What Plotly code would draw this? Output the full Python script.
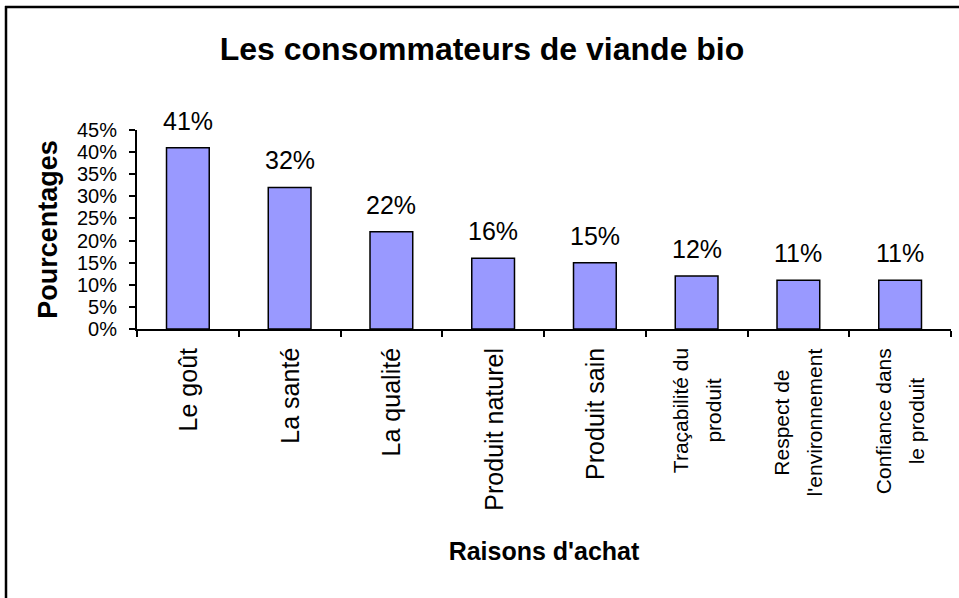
import plotly.graph_objects as go

categories = ["Le goût", "La santé", "La qualité", "Produit naturel", "Produit sain",
              "Traçabilité du<br>produit", "Respect de<br>l'environnement", "Confiance dans<br>le produit"]
values = [0.41, 0.32, 0.22, 0.16, 0.15, 0.12, 0.11, 0.11]
value_labels = ["41%", "32%", "22%", "16%", "15%", "12%", "11%", "11%"]
y_ticks = [0, 0.05, 0.10, 0.15, 0.20, 0.25, 0.30, 0.35, 0.40, 0.45]
y_tick_labels = ["0%", "5%", "10%", "15%", "20%", "25%", "30%", "35%", "40%", "45%"]

FONT = "Liberation Sans, Arial, sans-serif"

fig = go.Figure(go.Bar(
    x=categories, y=values,
    marker=dict(color="#9999FF", line=dict(color="black", width=1.5)),
    cliponaxis=False,
))

# value labels above bars
annotations = [
    dict(x=c, y=v, xref="x", yref="y", text=t, showarrow=False,
         yanchor="bottom", yshift=11, font=dict(family=FONT, size=25, color="black"))
    for c, v, t in zip(categories, values, value_labels)
]


def cat_text(c):
    # wrapped labels are drawn smaller, with the line pitch of the larger font
    if "<br>" in c:
        return "<br>".join('<span style="font-size:21px">%s</span>' % part for part in c.split("<br>"))
    return c


# category labels (rotated, lines centred as in the original)
annotations += [
    dict(x=c, y=0, xref="x", yref="y", text=cat_text(c), showarrow=False, textangle=-90,
         yanchor="top", xanchor="center", align="center", yshift=-17,
         font=dict(family=FONT, size=25, color="black"))
    for c in categories
]

W, H = 959, 598
L, R, T, B = 137, 8, 130, 269
pw, ph = W - L - R, H - T - B


def px_x(px):
    return (px - L) / pw


def px_y(py):
    return (H - B - py) / ph


shapes = [
    dict(type="line", xref="paper", yref="paper", x0=px_x(5), x1=px_x(965), y0=px_y(7), y1=px_y(7),
         line=dict(color="black", width=2.5)),
    dict(type="line", xref="paper", yref="paper", x0=px_x(6), x1=px_x(6), y0=px_y(6), y1=px_y(605),
         line=dict(color="black", width=2.5)),
]

fig.update_layout(
    width=W, height=H,
    margin=dict(l=L, r=R, t=T, b=B, autoexpand=False),
    paper_bgcolor="white", plot_bgcolor="white",
    showlegend=False,
    bargap=0.58,
    font=dict(family=FONT, color="black"),
    title=dict(text="<b>Les consommateurs de viande bio</b>", x=482 / W, xref="container",
               xanchor="center", y=1 - 49 / H, yref="container", yanchor="middle",
               font=dict(family=FONT, size=32, color="black")),
    annotations=annotations,
    shapes=shapes,
)

fig.update_xaxes(
    showline=True, linecolor="black", linewidth=2, mirror=False,
    ticks="outside", tickson="boundaries", ticklen=6, tickwidth=2, tickcolor="black",
    showticklabels=False,
    showgrid=False, zeroline=False,
    title=dict(text="<b>Raisons d'achat</b>", font=dict(family=FONT, size=25, color="black"),
               standoff=212),
)
fig.update_yaxes(
    range=[0, 0.45], tickvals=y_ticks, ticktext=y_tick_labels,
    showline=True, linecolor="black", linewidth=2,
    ticks="outside", ticklen=6, tickwidth=2, tickcolor="black",
    tickfont=dict(family=FONT, size=20, color="black"),
    ticklabelstandoff=8,
    showgrid=False, zeroline=False,
    title=dict(text="<b>Pourcentages</b>", font=dict(family=FONT, size=27, color="black"),
               standoff=12),
)

fig.write_html("out.html", config={"displayModeBar": False},
               post_script="document.body.style.margin='0';")
